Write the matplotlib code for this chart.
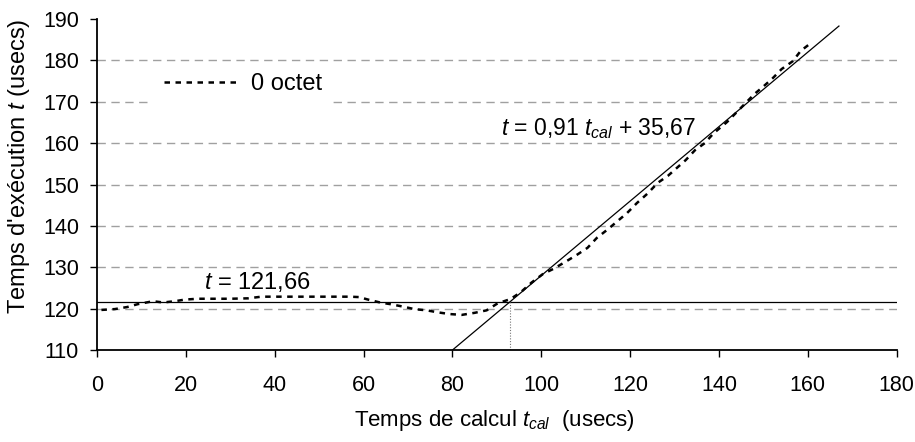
import matplotlib
matplotlib.use("Agg")
import matplotlib.pyplot as plt

plt.rcParams['font.family'] = ['Liberation Sans', 'DejaVu Sans']
plt.rcParams['mathtext.fontset'] = 'custom'
plt.rcParams['mathtext.rm'] = 'Liberation Sans'
plt.rcParams['mathtext.it'] = 'Liberation Sans:italic'

# measured series (0 octet)
tcal = [1.0, 4.0, 6.8, 9.2, 12.6, 14.9, 17.5, 19.8, 22.7, 26, 30, 34,
        37, 41, 45, 49, 53, 57, 59, 61, 63.7, 66, 68.9, 71.4, 74.2, 76.8,
        79.4, 82.1, 85, 87.7, 90.2, 93, 95.3, 97.8, 100.4, 102.7, 105.4,
        108, 110.4, 112.5, 115, 117.2, 119.3, 121.5, 124, 126.2, 128.5,
        130.5, 132.5, 134.6, 136.8, 138.8, 141.8, 144, 146, 148, 149.9,
        152.1, 154.1, 156.6, 158.4, 160.7]
t_exec = [119.7, 119.9, 120.4, 121.1, 121.8, 121.5, 121.8, 122.2, 122.4,
          122.4, 122.4, 122.5, 122.9, 122.9, 122.9, 122.9, 122.9, 122.9,
          122.8, 122.2, 121.5, 121.1, 120.5, 119.9, 119.6, 119.1, 118.7,
          118.5, 119.0, 119.6, 121.3, 122.3, 123.9, 126.3, 128.4, 129.6,
          131.3, 133.0, 134.7, 137.1, 139.2, 141.2, 143.1, 145.5, 147.9,
          150.4, 152.1, 154.0, 155.9, 158.3, 160.0, 162.4, 165.1, 167.5,
          169.7, 171.9, 173.6, 175.7, 177.9, 179.8, 182.3, 184.2]

# fitted lines
plateau = 121.66
fit_x = [80, 167]
fit_y = [110, 188.3]
cross_x = 93

fig = plt.figure(figsize=(9.15, 4.42), dpi=100)
ax = fig.add_axes([0.106, 0.208, 0.874, 0.749])

for yv in range(120, 190, 10):
    ax.axhline(yv, color='#a0a0a0', lw=1.0, dashes=(6, 4), zorder=1)

ax.axhline(plateau, color='black', lw=0.9, zorder=2)
ax.plot(fit_x, fit_y, color='black', lw=0.9, zorder=2)
ax.plot([cross_x, cross_x], [110, plateau], color='#777777', lw=0.8,
        linestyle=(0, (1, 1.5)), zorder=2)

line, = ax.plot(tcal, t_exec, color='black', lw=1.8, dashes=(2.2, 2.2),
                zorder=3, label='0 octet')

ax.set_xlim(0, 180)
ax.set_ylim(110, 190)
ax.set_xticks(range(0, 181, 20))
ax.set_yticks(range(110, 191, 10))
for s in ['top', 'right']:
    ax.spines[s].set_visible(False)
for s in ['left', 'bottom']:
    ax.spines[s].set_linewidth(1.3)
ax.tick_params(labelsize=15.5, direction='out', length=5, width=1)
ax.tick_params(axis='x', pad=13)
ax.tick_params(axis='y', pad=8)

ax.set_xlabel('Temps de calcul $t_{cal}$  (usecs)', fontsize=16)
ax.xaxis.set_label_coords(0.4975, -0.175)
ax.set_ylabel("Temps d'exécution $t$ (usecs)", fontsize=17)
ax.yaxis.set_label_coords(-0.081, 0.556)

ax.text(36.1, 126.4, '$t$ = 121,66', fontsize=17, ha='center', va='center')
ax.text(112.8, 163.6, '$t$ = 0,91 $t_{cal}$ + 35,67', fontsize=16.5,
        ha='center', va='center')

leg = ax.legend(handles=[line], loc='center',
                bbox_to_anchor=(0.1825, 0.8036), fontsize=17, frameon=True,
                handlelength=3.2, handletextpad=0.47, borderpad=0.45)
leg.get_frame().set_edgecolor('none')
leg.get_frame().set_facecolor('white')
leg.get_frame().set_alpha(1)
leg.get_frame().set_boxstyle('square', pad=0)

fig.savefig('out.png', dpi=100)
